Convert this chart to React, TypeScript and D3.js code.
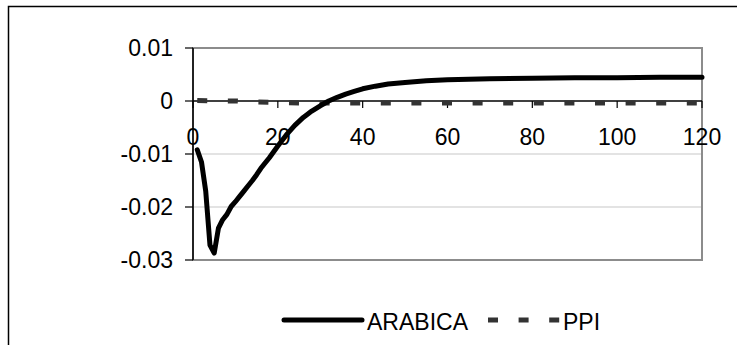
import React from "react";
import * as d3 from "d3";

// Impulse response values
const arabicaPeriods = [1, 2, 3, 4, 5, 6, 7, 8, 9, 10, 11, 12, 13, 14, 15, 16, 18, 20, 22, 24, 26, 28, 30, 32, 34, 36, 38, 40, 43, 46, 50, 55, 60, 65, 70, 80, 90, 100, 110, 120];
const arabicaValues = [-0.0092, -0.0115, -0.017, -0.0272, -0.0287, -0.024, -0.0224, -0.0214, -0.0199, -0.019, -0.018, -0.017, -0.016, -0.015, -0.0139, -0.0127, -0.0107, -0.0085, -0.0064, -0.0046, -0.0031, -0.0019, -0.0009, 0.0, 0.0007, 0.0013, 0.0018, 0.0023, 0.0028, 0.0032, 0.0035, 0.0038, 0.004, 0.0041, 0.0042, 0.0043, 0.0044, 0.0044, 0.0045, 0.0045];

const ppiPeriods = [1, 5, 10, 15, 20, 25, 30, 60, 90, 120];
const ppiValues = [0.0001, 0.00005, 0.0, -0.0002, -0.0003, -0.0004, -0.0004, -0.0004, -0.0004, -0.0004];

const xTicks = [0, 20, 40, 60, 80, 100, 120];
const yTicks = [0.01, 0, -0.01, -0.02, -0.03];
const gridValues = [-0.01, -0.02];

const FONT = "'Liberation Sans', Arial, sans-serif";

export default function App() {
  const x = d3.scaleLinear().domain([0, 120]).range([193, 702]);
  const y = d3.scaleLinear().domain([-0.03, 0.01]).range([260, 48]);

  const line = d3
    .line<[number, number]>()
    .x((d) => x(d[0]))
    .y((d) => y(d[1]));

  const arabica = arabicaPeriods.map((p, i) => [p, arabicaValues[i]] as [number, number]);
  const ppi = ppiPeriods.map((p, i) => [p, ppiValues[i]] as [number, number]);

  const [x0, x1] = x.range();
  const [yb, yt] = y.range();

  return (
    <svg
      width={737}
      height={345}
      style={{ position: "absolute", left: 0, top: 0, background: "#fff" }}
      fontFamily={FONT}
    >
      {/* chart border (runs off the right and bottom of the picture) */}
      <rect x={8.5} y={6.5} width={760} height={400} fill="none" stroke="#000" strokeWidth={1.5} />

      {/* plot area */}
      {gridValues.map((v) => (
        <line key={v} x1={x0} x2={x1} y1={y(v)} y2={y(v)} stroke="#c8c8c8" strokeWidth={1.2} />
      ))}
      <rect x={x0} y={yt} width={x1 - x0} height={yb - yt} fill="none" stroke="#8c8c8c" strokeWidth={2} />

      {/* y axis */}
      <line x1={x0} x2={x0} y1={yt} y2={yb} stroke="#000" strokeWidth={1.5} />
      {yTicks.map((v) => (
        <g key={v}>
          <line x1={x0 - 8} x2={x0} y1={y(v)} y2={y(v)} stroke="#000" strokeWidth={1.2} />
          <text x={173} y={y(v)} dy="0.36em" textAnchor="end" fontSize={23} fill="#000">
            {v === 0 ? "0" : v.toFixed(2)}
          </text>
        </g>
      ))}

      {/* x axis at zero */}
      <line x1={x0} x2={x1} y1={y(0)} y2={y(0)} stroke="#000" strokeWidth={1.5} />
      {xTicks.map((t) => (
        <g key={t}>
          <line x1={x(t)} x2={x(t)} y1={y(0)} y2={y(0) + 7} stroke="#000" strokeWidth={1.2} />
          <text x={x(t)} y={145} textAnchor="middle" fontSize={23} fill="#000">
            {t}
          </text>
        </g>
      ))}

      {/* series */}
      <path d={line(ppi) ?? ""} fill="none" stroke="#333" strokeWidth={5} strokeDasharray="10 20.6" />
      <path d={line(arabica) ?? ""} fill="none" stroke="#000" strokeWidth={5} strokeLinejoin="round" strokeLinecap="round" />

      {/* legend */}
      <line x1={284} x2={362} y1={320} y2={320} stroke="#000" strokeWidth={5} strokeLinecap="round" />
      <text x={367} y={330} fontSize={23} fill="#000">ARABICA</text>
      <line x1={488} x2={560} y1={320} y2={320} stroke="#333" strokeWidth={5} strokeDasharray="10 20.6" />
      <text x={563} y={330} fontSize={23} fill="#000">PPI</text>
    </svg>
  );
}
